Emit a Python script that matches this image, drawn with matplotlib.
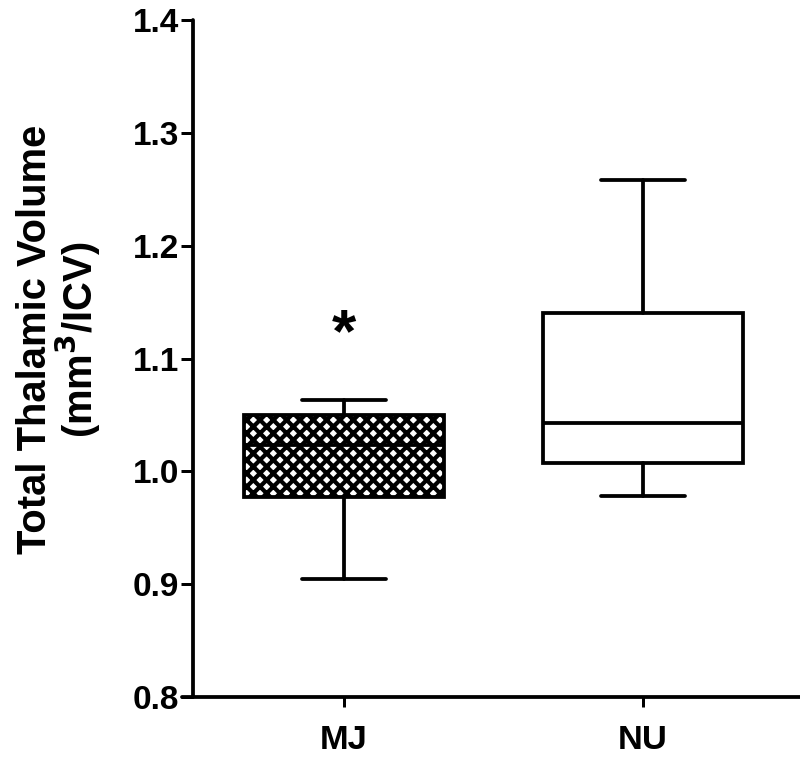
import matplotlib
matplotlib.use("Agg")
import matplotlib.pyplot as plt

# Box summary values
groups = ["MJ", "NU"]
whisker_low = [0.905, 0.978]
q1 = [0.977, 1.0075]
median = [1.023, 1.043]
q3 = [1.050, 1.140]
whisker_high = [1.063, 1.258]
yticks = [0.8, 0.9, 1.0, 1.1, 1.2, 1.3, 1.4]
sig_marks = ["*", ""]

plt.rcParams['font.family'] = ['Liberation Sans', 'DejaVu Sans']
plt.rcParams['hatch.linewidth'] = 1.9
plt.rcParams['hatch.color'] = 'black'

DPI = 160
LW = 1.7

fig = plt.figure(figsize=(800 / DPI, 759 / DPI), dpi=DPI)
ax = fig.add_axes([0.2275, 0.0817, 0.7725, 0.8919])

stats = []
for i, g in enumerate(groups):
    stats.append({'label': g, 'whislo': whisker_low[i], 'q1': q1[i], 'med': median[i],
                  'q3': q3[i], 'whishi': whisker_high[i], 'fliers': []})

line_props = dict(color='black', linewidth=LW, solid_capstyle='round')
bp = ax.bxp(stats, positions=[1, 2], widths=0.669, capwidths=0.278,
            patch_artist=True, showfliers=False,
            boxprops=dict(facecolor='white', edgecolor='black', linewidth=LW),
            medianprops=dict(color='black', linewidth=LW),
            whiskerprops=line_props, capprops=line_props)
bp['boxes'][0].set_hatch('xxxx')

for i, mark in enumerate(sig_marks):
    if mark:
        ax.text(i + 1, whisker_high[i] + 0.057, mark, ha='center', va='center',
                fontsize=28, fontweight='bold')

ax.set_ylim(0.8, 1.4)
ax.set_xlim(0.458, 2.525)
ax.set_yticks(yticks)
ax.set_yticklabels([f"{t:.1f}" for t in yticks])
ax.set_xticks([1, 2])
ax.set_xticklabels(groups)

ax.spines['top'].set_visible(False)
ax.spines['right'].set_visible(False)
ax.spines['left'].set_position(('data', 0.495))
for s in ['left', 'bottom']:
    ax.spines[s].set_linewidth(LW)
    ax.spines[s].set_capstyle('round')

ax.tick_params(axis='y', length=5.4, width=1.35, pad=1, labelsize=15)
ax.tick_params(axis='x', length=4.5, width=1.35, pad=8, labelsize=15.5)
for lbl in ax.get_xticklabels() + ax.get_yticklabels():
    lbl.set_fontweight('bold')

fig.text(0.074, 0.553, "Total Thalamic Volume\n(mm$^\\mathbf{3}$/ICV)", rotation=90,
         ha='center', va='center', fontsize=18, fontweight='bold',
         linespacing=1.0)

fig.savefig("out.png", dpi=DPI)
